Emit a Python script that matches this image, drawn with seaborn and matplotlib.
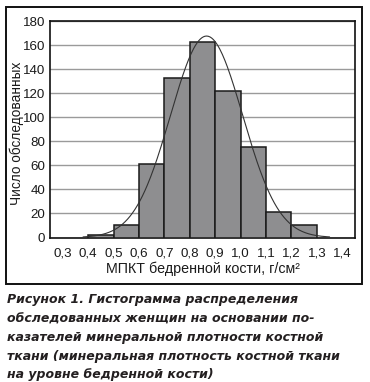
import numpy as np
import pandas as pd
import matplotlib
matplotlib.use("Agg")
import matplotlib.pyplot as plt
import seaborn as sns
from matplotlib.patches import Rectangle

# ---- data ----
bin_edges = [0.4, 0.5, 0.6, 0.7, 0.8, 0.9, 1.0, 1.1, 1.2, 1.3]
counts = [2, 10, 61, 133, 163, 122, 75, 21, 10]
x_ticks = [0.3, 0.4, 0.5, 0.6, 0.7, 0.8, 0.9, 1.0, 1.1, 1.2, 1.3, 1.4]
x_tick_labels = ["0,3", "0,4", "0,5", "0,6", "0,7", "0,8", "0,9", "1,0", "1,1", "1,2", "1,3", "1,4"]
y_ticks = [0, 20, 40, 60, 80, 100, 120, 140, 160, 180]
# fitted normal curve parameters
fit_mean = 0.866
fit_sd = 0.142
fit_range = (0.38, 1.35)

xlabel = "МПКТ бедренной кости, г/см²"
ylabel = "Число обследованных"
caption_lines = [
    "Рисунок 1. Гистограмма распределения",
    "обследованных женщин на основании по-",
    "казателей минеральной плотности костной",
    "ткани (минеральная плотность костной ткани",
    "на уровне бедренной кости)",
]

sns.set_style("white")
plt.rcParams["font.family"] = ["Liberation Sans", "DejaVu Sans"]

W, H = 370, 382
fig = plt.figure(figsize=(W / 100, H / 100), dpi=100)
ax = fig.add_axes([50 / W, 1 - 237.5 / H, 305 / W, 216.2 / H])

centers = [(a + b) / 2 for a, b in zip(bin_edges[:-1], bin_edges[1:])]
df = pd.DataFrame({"x": centers, "w": counts})
sns.histplot(data=df, x="x", weights="w", bins=bin_edges, ax=ax,
             color="#8e8e90", edgecolor="#1a1a1a", linewidth=1.1, alpha=1, zorder=3)

n_total = sum(counts)
bw = bin_edges[1] - bin_edges[0]
xs = np.linspace(fit_range[0], fit_range[1], 300)
ys = n_total * bw / (fit_sd * np.sqrt(2 * np.pi)) * np.exp(-0.5 * ((xs - fit_mean) / fit_sd) ** 2)
sns.lineplot(x=xs, y=ys, ax=ax, color="#333333", linewidth=0.8, zorder=4)

ax.set_xlim(0.25, 1.45)
ax.set_ylim(0, 180)
ax.set_xticks(x_ticks)
ax.set_xticklabels(x_tick_labels)
ax.set_yticks(y_ticks)
ax.yaxis.grid(True, color="#9a9a9a", linewidth=1.0, zorder=0)
ax.set_axisbelow(True)
for s in ax.spines.values():
    s.set_visible(True)
    s.set_color("#111111")
    s.set_linewidth(1.2)
ax.tick_params(axis="x", direction="out", length=4, width=1, color="#888888",
               labelsize=9.6, pad=3, labelcolor="#1a1a1a")
ax.tick_params(axis="y", direction="out", length=2, width=1, color="#111111",
               labelsize=9.6, pad=1.5, labelcolor="#1a1a1a")
ax.set_xlabel(xlabel, fontsize=10.3, color="#1a1a1a", labelpad=2)
ax.set_ylabel(ylabel, fontsize=9.8, color="#1a1a1a")
ax.yaxis.set_label_coords(-(50 - 17) / 305, 0.48)
ax.yaxis.label.set_va("center")

# outer frame
fig.patches.append(Rectangle((6 / W, 1 - 284 / H), 356 / W, 277 / H,
                             transform=fig.transFigure, fill=False,
                             edgecolor="#111111", linewidth=1.4))

baselines = [303.3, 322.3, 341.0, 359.7, 378.3]
for line, yb in zip(caption_lines, baselines):
    fig.text(7 / W, 1 - yb / H, line, fontsize=9.0, fontweight="bold", fontstyle="italic",
             color="#231f20", va="baseline", ha="left",
             family=["DejaVu Sans"])

fig.savefig("out.png", dpi=100)
